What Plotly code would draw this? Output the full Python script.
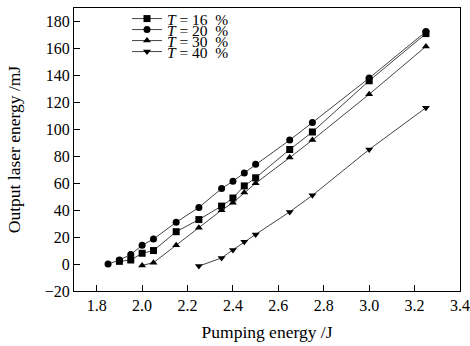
import plotly.graph_objects as go

x16 = [1.90, 1.95, 2.00, 2.05, 2.15, 2.25, 2.35, 2.40, 2.45, 2.50, 2.65, 2.75, 3.00, 3.25]
y16 = [2, 3, 8, 10, 24, 33, 43, 49, 58, 64, 85, 98, 136, 171]
x20 = [1.85, 1.90, 1.95, 2.00, 2.05, 2.15, 2.25, 2.35, 2.40, 2.45, 2.50, 2.65, 2.75, 3.00, 3.25]
y20 = [0, 3, 7, 14, 18.5, 31, 42, 56, 61.5, 67.5, 74, 92, 105, 138, 172.5]
x30 = [2.00, 2.05, 2.15, 2.25, 2.35, 2.40, 2.45, 2.50, 2.65, 2.75, 3.00, 3.25]
y30 = [-1, 1, 14, 27, 40, 45.5, 53, 60, 79, 92, 126, 161.5]
x40 = [2.25, 2.35, 2.40, 2.45, 2.50, 2.65, 2.75, 3.00, 3.25]
y40 = [-1.5, 4.5, 10.5, 16.5, 22, 38.7, 51, 85, 116]

NB = "\u00a0"
series = [
    (f"<i>T</i>{NB}={NB}16{NB}{NB}%", x16, y16, "square"),
    (f"<i>T</i>{NB}={NB}20{NB}{NB}%", x20, y20, "circle"),
    (f"<i>T</i>{NB}={NB}30{NB}{NB}%", x30, y30, "triangle-up"),
    (f"<i>T</i>{NB}={NB}40{NB}{NB}%", x40, y40, "triangle-down"),
]

xticks = [1.8, 2.0, 2.2, 2.4, 2.6, 2.8, 3.0, 3.2, 3.4]
yticks = [-20, 0, 20, 40, 60, 80, 100, 120, 140, 160, 180]

FONT = "Liberation Serif"
W, H = 470, 346
ML, MR, MT, MB = 74, 10, 8, 55
PW, PH = W - ML - MR, H - MT - MB

fig = go.Figure()
legend_names = ["legend", "legend2", "legend3", "legend4"]
for (name, xs, ys, sym), lg in zip(series, legend_names):
    fig.add_trace(go.Scatter(
        x=xs, y=ys, name=name, mode="lines+markers", legend=lg,
        line=dict(color="#444444", width=1),
        marker=dict(symbol=sym, size=7, color="black", line=dict(width=0)),
    ))

axis_common = dict(
    showline=True, linecolor="black", linewidth=1, mirror=True,
    ticks="inside", ticklen=6, tickcolor="black", tickwidth=1,
    showgrid=False, zeroline=False, automargin=False,
    tickfont=dict(family=FONT, size=16, color="black"),
)

row_py = [19, 30, 41, 52]
legend_layout = {}
for lg, py in zip(legend_names, row_py):
    legend_layout[lg] = dict(
        xref="paper", yref="paper",
        x=(127 - ML) / PW, y=(H - MB - py) / PH, xanchor="left", yanchor="middle",
        bgcolor="rgba(0,0,0,0)", borderwidth=0,
        font=dict(family=FONT, size=15.5, color="black"),
        itemwidth=30,
    )

fig.update_layout(
    width=W, height=H,
    margin=dict(l=ML, r=MR, t=MT, b=MB, autoexpand=False),
    paper_bgcolor="white", plot_bgcolor="white",
    font=dict(family=FONT, color="black"),
    xaxis=dict(range=[1.7, 3.4], tickvals=xticks,
               ticktext=[f"{v:.1f}" for v in xticks],
               title=dict(text="Pumping energy /J", standoff=12,
                          font=dict(family=FONT, size=17.5, color="black")),
               **axis_common),
    yaxis=dict(range=[-20, 190], tickvals=yticks,
               ticktext=[("\u221220" if v < 0 else str(v)) for v in yticks],
               title=dict(text="Output laser energy /mJ", standoff=19,
                          font=dict(family=FONT, size=17.5, color="black")),
               **axis_common),
    showlegend=True,
    **legend_layout,
)

fig.write_html("out.html", config={"displayModeBar": False},
               post_script="document.body.style.margin='0';")
